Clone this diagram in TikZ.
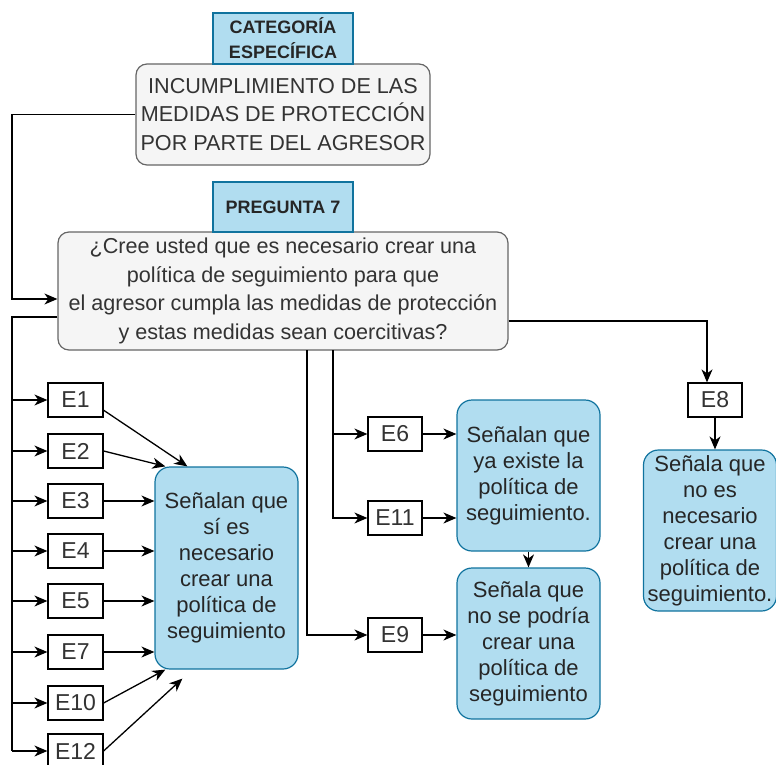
\documentclass[tikz,border=0pt]{standalone}
\usepackage{fontspec}
\setmainfont{Liberation Sans}
\usetikzlibrary{arrows.meta,calc}
\definecolor{hdrfill}{HTML}{B1DDF0}
\definecolor{hdrline}{HTML}{10739E}
\definecolor{gfill}{HTML}{F5F5F5}
\definecolor{gline}{HTML}{666666}
\definecolor{gtext}{HTML}{333333}
\begin{document}
\begin{tikzpicture}[x=1pt,y=-1pt,
  hdr/.style={draw=hdrline,fill=hdrfill,line width=1.2pt,inner sep=0pt,minimum width=140pt,align=center,font=\bfseries\fontsize{18}{25}\selectfont,text=black!85},
  gbox/.style={draw=gline,fill=gfill,line width=1.2pt,rounded corners=11pt,inner sep=0pt,align=center,text=gtext,font=\fontsize{21.6}{28.5}\selectfont},
  bbox/.style={draw=hdrline,fill=hdrfill,line width=1.2pt,rounded corners=15pt,inner sep=0pt,align=center,text=black!85,font=\fontsize{22}{26}\selectfont},
  ebox/.style={draw=black,fill=white,line width=1.2pt,inner sep=0pt,minimum height=34pt,font=\fontsize{23}{24}\selectfont,text=black!80},
  arr/.style={line width=1.3pt,-{Stealth[length=13pt,width=11pt,inset=4pt]}},
  ln/.style={line width=1.3pt}]
\useasboundingbox (0,0) rectangle (776,765);
% top
\node[gbox,minimum width=294pt,minimum height=101pt] (inc) at (283,114.5) {INCUMPLIMIENTO DE LAS\\MEDIDAS DE PROTECCIÓN\\POR PARTE DEL AGRESOR};
\node[hdr,minimum height=51pt] (cat) at (283,38.5) {CATEGORÍA\\ESPECÍFICA};
\node[gbox,minimum width=450pt,minimum height=118pt] (q) at (283,291) {¿Cree usted que es necesario crear una\\política de seguimiento para que\\el agresor cumpla las medidas de protección\\y estas medidas sean coercitivas?};
\node[hdr,minimum height=50pt] (preg) at (283,207) {PREGUNTA 7};
% E boxes left
\node[ebox,minimum width=55pt] (e1) at (75.5,400) {E1};
\node[ebox,minimum width=55pt] (e2) at (75.5,451) {E2};
\node[ebox,minimum width=55pt] (e3) at (75.5,501) {E3};
\node[ebox,minimum width=55pt] (e4) at (75.5,551) {E4};
\node[ebox,minimum width=55pt] (e5) at (75.5,601) {E5};
\node[ebox,minimum width=55pt] (e7) at (75.5,652) {E7};
\node[ebox,minimum width=55pt] (e10) at (75.5,703) {E10};
\node[ebox,minimum width=55pt] (e12) at (75.5,751) {E12};
\node[bbox,minimum width=143pt,minimum height=202pt] (sb) at (226.5,568) {Señalan que\\sí es\\necesario\\crear una\\política de\\seguimiento};
% middle
\node[ebox,minimum width=54pt] (e6) at (395,434) {E6};
\node[ebox,minimum width=54pt] (e11) at (395,518) {E11};
\node[ebox,minimum width=54pt] (e9) at (395,635) {E9};
\node[bbox,minimum width=143pt,minimum height=151pt] (ya) at (528.5,475.5) {Señalan que\\ya existe la\\política de\\seguimiento.};
\node[bbox,minimum width=143pt,minimum height=151pt] (nose) at (528.5,643.5) {Señala que\\no se podría\\crear una\\política de\\seguimiento};
% right
\node[ebox,minimum width=54pt] (e8) at (715,400) {E8};
\node[bbox,minimum width=133pt,minimum height=161pt] (ne) at (710,530.5) {Señala que\\no es\\necesario\\crear una\\política de\\seguimiento.};
% coordinates
\coordinate (k1) at (12,299);
\coordinate (k2) at (12,317);
\coordinate (m1) at (333,350);
\coordinate (m2) at (307,350);
\coordinate (k3) at (707,321);
% connectors
\draw[arr] (inc.west) -| (k1) -- (k1 -| q.west);
\draw[ln] (k2 -| q.west) -- (k2) -- (k2 |- e12);
\foreach \e in {e1,e2,e3,e4,e5,e7,e10,e12}{\draw[arr] (k2 |- \e) -- (\e.west);}
\draw[arr] (e1.-20) -- ($(sb.north west)+(33,0)$);
\draw[arr] (e2.east) -- ($(sb.north west)+(11,0)$);
\draw[arr] (e3.east) -- (e3.east -| sb.west);
\draw[arr] (e4.east) -- (e4.east -| sb.west);
\draw[arr] (e5.east) -- (e5.east -| sb.west);
\draw[arr] (e7.east) -- (e7.east -| sb.west);
\draw[arr] (e10.east) -- ($(sb.south west)+(11,0)$);
\draw[arr] (e12.east) -- ($(sb.south west)+(28,9)$);
\draw[arr] (m1) |- (e6.west);
\draw[arr] (m1) |- (e11.west);
\draw[arr] (m2) |- (e9.west);
\draw[arr] (e6.east) -- (e6.east -| ya.west);
\draw[arr] (e11.east) -- (e11.east -| ya.west);
\draw[arr] (e9.east) -- (e9.east -| nose.west);
\draw[arr] (ya.south) -- (nose.north);
\draw[arr] (k3 -| q.east) -- (k3) -- (k3 |- e8.north);
\draw[arr] (e8.south) -- (e8.south |- ne.north);
\end{tikzpicture}
\end{document}
